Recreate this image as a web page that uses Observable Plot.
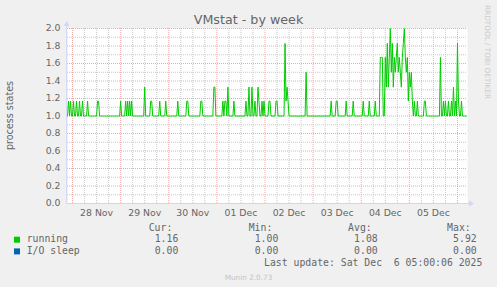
<!DOCTYPE html>
<html><head><meta charset="utf-8">
<script src="https://cdn.jsdelivr.net/npm/d3@7"></script>
<script src="https://cdn.jsdelivr.net/npm/@observablehq/plot@0.6"></script>
<style>
html,body{margin:0;padding:0;background:#f0f0f0;}
#wrap{position:relative;width:497px;height:287px;background:#f0f0f0;overflow:hidden;}
#wrap svg{display:block;}
</style></head><body>
<div id="wrap"></div>
<script>
// ---------- data ----------
const title = "VMstat - by week";
const yLabel = "process states";
const seriesNames = ["running", "I/O sleep"];
const seriesColors = ["#00cc00", "#0066b3"];
const statHeaders = ["Cur:", "Min:", "Avg:", "Max:"];
const curValues = ["1.16", "0.00"];
const minValues = ["1.00", "0.00"];
const avgValues = ["1.08", "0.00"];
const maxValues = ["5.92", "0.00"];
const lastUpdate = "Last update: Sat Dec  6 05:00:06 2025";
const footer = "Munin 2.0.73";
const sideText = "RRDTOOL / TOBI OETIKER";
const yTicks = [0.0, 0.2, 0.4, 0.6, 0.8, 1.0, 1.2, 1.4, 1.6, 1.8, 2.0];
const xTickDays = ["2025-11-28", "2025-11-29", "2025-11-30", "2025-12-01", "2025-12-02", "2025-12-03", "2025-12-04", "2025-12-05"];
const viewStart = "2025-11-27 21:30";
const viewEnd = "2025-12-06 05:00";
const sampleStart = "2025-11-27 21:30";
const sampleEnd = "2025-12-06 04:30";
const sampleMinutes = 30;
const runningBaseline = 1.0;
const ioSleepValue = 0.0;
// 30-minute averages that differ from the 1.0 baseline of "running"
const runningSpikes = [
  ["11-27 22:00",1.17],["11-27 23:00",1.17],
  ["11-28 00:30",1.17],["11-28 02:00",1.17],["11-28 03:30",1.17],["11-28 05:00",1.17],["11-28 07:30",1.17],["11-28 12:30",1.17],["11-28 13:00",1.17],
  ["11-29 00:00",1.17],["11-29 02:30",1.17],["11-29 03:30",1.17],["11-29 04:30",1.17],["11-29 05:30",1.17],["11-29 12:00",1.33],["11-29 15:00",1.17],["11-29 15:30",1.17],["11-29 19:30",1.17],["11-29 22:30",1.17],
  ["11-30 04:30",1.17],["11-30 09:00",1.17],["11-30 09:30",1.17],["11-30 16:00",1.17],["11-30 16:30",1.17],["11-30 22:30",1.33],["11-30 23:00",1.33],
  ["12-01 03:00",1.17],["12-01 04:00",1.17],["12-01 04:30",1.17],["12-01 05:30",1.33],["12-01 08:30",1.17],["12-01 14:30",1.17],["12-01 16:00",1.33],["12-01 17:30",1.33],["12-01 19:00",1.17],["12-01 20:30",1.33],["12-01 21:00",1.17],["12-01 22:30",1.17],["12-01 23:30",1.17],
  ["12-02 02:00",1.17],["12-02 02:30",1.17],["12-02 05:30",1.17],["12-02 06:00",1.17],["12-02 10:00",1.83],["12-02 10:30",1.17],["12-02 11:00",1.33],["12-02 11:30",1.17],["12-02 20:30",1.5],
  ["12-03 09:00",1.17],["12-03 11:30",1.17],["12-03 12:00",1.17],["12-03 16:30",1.17],["12-03 20:00",1.17],
  ["12-04 01:00",1.17],["12-04 04:00",1.17],["12-04 07:00",1.17],["12-04 09:30",1.67],["12-04 10:00",1.67],["12-04 10:30",1.67],
  ["12-04 12:00",1.67],["12-04 12:30",1.33],["12-04 13:00",1.83],["12-04 13:30",1.33],["12-04 14:00",1.67],["12-04 14:30",2.0],["12-04 15:00",1.5],["12-04 15:30",1.83],["12-04 16:00",1.33],["12-04 16:30",1.67],["12-04 17:00",1.5],["12-04 17:30",1.67],["12-04 18:00",1.83],["12-04 18:30",1.5],["12-04 19:00",1.67],["12-04 19:30",1.5],["12-04 20:00",1.33],["12-04 20:30",1.67],["12-04 21:00",1.83],["12-04 21:30",2.0],["12-04 22:00",1.67],["12-04 22:30",1.5],["12-04 23:00",1.67],["12-04 23:30",1.17],
  ["12-05 00:00",1.5],["12-05 00:30",1.33],["12-05 01:00",1.5],["12-05 01:30",1.17],["12-05 02:30",1.17],["12-05 04:00",1.17],["12-05 07:30",1.17],["12-05 08:00",1.17],["12-05 15:30",1.67],["12-05 17:00",1.17],["12-05 18:00",1.17],["12-05 19:30",1.17],["12-05 21:00",1.17],["12-05 22:00",1.33],["12-05 23:00",1.17],
  ["12-06 00:00",1.83],["12-06 00:30",1.17],["12-06 02:00",1.17]
];

// ---------- build ----------
const parse = d3.timeParse("%Y-%m-%d %H:%M");
const x0 = parse(viewStart), x1 = parse(viewEnd);
const spikeMap = new Map(runningSpikes.map(([t, v]) => [+parse("2025-" + t), v]));
const times = d3.timeMinute.every(sampleMinutes).range(parse(sampleStart), d3.timeMinute.offset(parse(sampleEnd), 1));
const runData = times.map(t => ({t, v: spikeMap.has(+t) ? spikeMap.get(+t) : runningBaseline}));
const ioData = times.map(t => ({t, v: ioSleepValue}));

const yMinor = d3.range(0, 2.001, 0.1).filter(v => Math.round(v * 10) % 2 === 1);
const xMajor = d3.timeDay.range(x0, x1);
const xMinor = d3.timeHour.every(6).range(x0, x1).filter(d => d.getHours() !== 0);
const xLabelDates = xTickDays.map(d => d3.timeHour.offset(d3.timeParse("%Y-%m-%d")(d), 12));

const FONT = "DejaVu Sans, sans-serif";
const MONO = "DejaVu Sans Mono, monospace";
const TXT = "#666666";
const AXISC = "#cfd6f8";

const plot = Plot.plot({
  width: 497, height: 287,
  marginLeft: 67, marginRight: 30, marginTop: 28, marginBottom: 84,
  style: {background: "transparent", fontFamily: FONT, fontSize: "9.3px", color: TXT, overflow: "visible"},
  x: {type: "time", domain: [x0, x1]},
  y: {domain: [0, 2]},
  marks: [
    Plot.frame({fill: "white", stroke: "none"}),
    Plot.ruleY(yMinor, {stroke: "#c8c8c8", strokeDasharray: "1,1"}),
    Plot.ruleX(xMinor, {stroke: "#c8c8c8", strokeDasharray: "1,1"}),
    Plot.ruleY(yTicks, {stroke: "#eeaaaa", strokeDasharray: "1,1"}),
    Plot.ruleX(xMajor, {stroke: "#eeaaaa", strokeDasharray: "1,1"}),
    Plot.line(ioData, {x: "t", y: "v", stroke: seriesColors[1], strokeWidth: 1}),
    Plot.line(runData, {x: "t", y: "v", stroke: seriesColors[0], strokeWidth: 1, curve: "linear"}),
    Plot.axisY({ticks: yTicks, tickFormat: d3.format(".1f"), tickSize: 0, tickPadding: 7, label: null, fill: TXT}),
    Plot.axisX({ticks: xLabelDates, tickFormat: d3.timeFormat("%d %b"), tickSize: 0, tickPadding: 6, label: null, fill: TXT})
  ]
});
document.getElementById("wrap").appendChild(plot);

// ---------- decorations drawn from the scales ----------
const sx = plot.scale("x"), sy = plot.scale("y");
const X = v => sx.apply(v), Y = v => sy.apply(v);
const svg = d3.select(plot);
const g = svg.append("g").attr("text-anchor", "start");
const ax = X(x0) - 0.3, ay = Y(0) + 0.5;
// axes
g.append("line").attr("x1", ax).attr("x2", ax).attr("y1", ay).attr("y2", Y(2) - 3).attr("stroke", AXISC);
g.append("path").attr("d", `M${ax},${Y(2) - 7}L${ax + 3},${Y(2) - 2}L${ax - 3},${Y(2) - 2}Z`).attr("fill", AXISC);
g.append("line").attr("x1", ax).attr("x2", X(x1) + 3).attr("y1", ay).attr("y2", ay).attr("stroke", AXISC);
g.append("path").attr("d", `M${X(x1) + 7},${ay}L${X(x1) + 2},${ay - 3}L${X(x1) + 2},${ay + 3}Z`).attr("fill", AXISC);

// title
g.append("text").attr("x", 248.5).attr("y", 24).attr("text-anchor", "middle")
  .attr("font-family", FONT).attr("font-size", 12.7).attr("fill", TXT).text(title);
// y label
g.append("text").attr("transform", `translate(13,${(Y(0) + Y(2)) / 2}) rotate(-90)`).attr("text-anchor", "middle")
  .attr("font-family", FONT).attr("font-size", 9.6).attr("fill", TXT).text(yLabel);
// side watermark
g.append("text").attr("transform", "translate(485,5) rotate(90)").attr("text-anchor", "start")
  .attr("font-family", FONT).attr("font-size", 7.3).attr("fill", "#cccccc").text(sideText);

// legend
const colEnds = [178.3, 278.3, 377.7, 476.7];
const rowBase = [242.3, 254.0];
const stats = [curValues, minValues, avgValues, maxValues];
statHeaders.forEach((h, i) => {
  g.append("text").attr("x", colEnds[i] - 6).attr("y", 230.7).attr("text-anchor", "end")
    .attr("font-family", MONO).attr("font-size", 9.8).attr("fill", TXT).text(h);
});
seriesNames.forEach((name, r) => {
  g.append("rect").attr("x", 14).attr("y", rowBase[r] - 5.6).attr("width", 6).attr("height", 6).attr("fill", seriesColors[r]);
  g.append("text").attr("x", 26.7).attr("y", rowBase[r]).attr("text-anchor", "start")
    .attr("font-family", MONO).attr("font-size", 9.8).attr("fill", TXT).text(name);
  stats.forEach((arr, i) => {
    g.append("text").attr("x", colEnds[i]).attr("y", rowBase[r]).attr("text-anchor", "end")
      .attr("font-family", MONO).attr("font-size", 9.8).attr("fill", TXT).text(arr[r]);
  });
});
g.append("text").attr("x", 482.3).attr("y", 265.6).attr("text-anchor", "end").style("white-space", "pre")
  .attr("font-family", MONO).attr("font-size", 9.8).attr("fill", TXT).text(lastUpdate);
g.append("text").attr("x", 248.5).attr("y", 279.5).attr("text-anchor", "middle")
  .attr("font-family", FONT).attr("font-size", 7.3).attr("fill", "#c4c4c4").text(footer);
</script>
</body></html>
